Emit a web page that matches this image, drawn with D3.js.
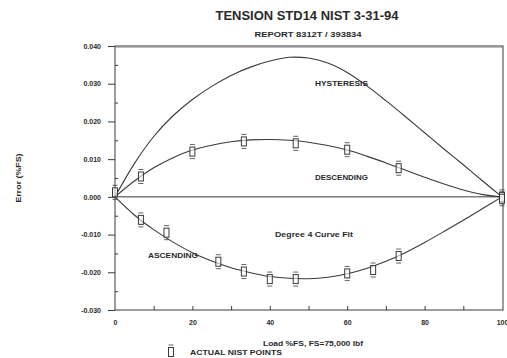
<!DOCTYPE html>
<html>
<head>
<meta charset="utf-8">
<script src="https://cdn.jsdelivr.net/npm/d3@7"></script>
<style>
  html, body { margin: 0; padding: 0; background: #fff; }
  svg { display: block; }
  text { font-family: "Liberation Sans", Arial, sans-serif; fill: #2a2a2a; font-weight: bold; }
</style>
</head>
<body>
<svg id="chart" width="507" height="358"></svg>
<script>
// Load points of the curve fits (% of full scale)
const fitLoads = [0, 5, 10, 15, 20, 25, 30, 35, 40, 45, 50, 55, 60, 65, 70, 75, 80, 85, 90, 95, 100];
// Degree 4 curve fits
const hysteresis = [0, 0.0088, 0.0160, 0.0215, 0.0258, 0.0293, 0.0322, 0.0344, 0.0360, 0.0370, 0.0368,
                    0.0355, 0.0330, 0.0295, 0.0255, 0.0213, 0.0170, 0.0127, 0.0085, 0.0042, 0];
const descending = [0, 0.0042, 0.0077, 0.0104, 0.0124, 0.0137, 0.0146, 0.0151, 0.0152, 0.0150, 0.0145,
                    0.0136, 0.0124, 0.0108, 0.0090, 0.0071, 0.0052, 0.0034, 0.0018, 0.0006, 0];
const ascending = [0, -0.0048, -0.0087, -0.0120, -0.0148, -0.0170, -0.0188, -0.0201, -0.0211, -0.0216, -0.0217,
                   -0.0213, -0.0204, -0.0190, -0.0171, -0.0148, -0.0121, -0.0092, -0.0062, -0.0031, 0];
// Actual NIST points
const descLoads = [0, 6.7, 20, 33.3, 46.7, 60, 73.3, 100];
const descPoints = [0.0012, 0.0054, 0.0120, 0.0147, 0.0142, 0.0125, 0.0076, 0];
const ascLoads = [6.7, 13.3, 26.7, 33.3, 40, 46.7, 60, 66.7, 73.3, 100];
const ascPoints = [-0.0061, -0.0095, -0.0172, -0.0198, -0.0218, -0.0218, -0.0203, -0.0194, -0.0157, -0.0005];
// Axis ticks
const yTicks = [0.04, 0.03, 0.02, 0.01, 0, -0.01, -0.02, -0.03];
const yTickLabels = ["0.040", "0.030", "0.020", "0.010", "0.000", "-0.010", "-0.020", "-0.030"];
const xTicks = [0, 20, 40, 60, 80, 100];

const svg = d3.select("#chart");
const plotL = 115, plotR = 503, plotT = 46, plotB = 310;
const x = d3.scaleLinear().domain([0, 100]).range([plotL, plotR - 1]);
const y = d3.scaleLinear().domain([-0.03, 0.04]).range([plotB, plotT]);
const ink = "#3a3a3a";

// Titles
svg.append("text").attr("x", 307).attr("y", 20).attr("text-anchor", "middle")
  .attr("font-size", 12).attr("textLength", 183).attr("lengthAdjust", "spacingAndGlyphs")
  .text("TENSION STD14  NIST 3-31-94");
svg.append("text").attr("x", 308).attr("y", 37).attr("text-anchor", "middle")
  .attr("font-size", 6.5).attr("textLength", 107).attr("lengthAdjust", "spacingAndGlyphs")
  .text("REPORT 8312T / 393834");

// Frame
svg.append("rect").attr("x", plotL).attr("y", plotT).attr("width", plotR - plotL).attr("height", plotB - plotT)
  .attr("fill", "none").attr("stroke", ink).attr("stroke-width", 1);
svg.append("line").attr("x1", plotL).attr("x2", plotR).attr("y1", plotT + 1.2).attr("y2", plotT + 1.2)
  .attr("stroke", "#888").attr("stroke-width", 0.8);

// Y axis
const yAxis = d3.axisLeft(y).tickValues(yTicks).tickSize(7).tickPadding(7)
  .tickFormat((d, i) => yTickLabels[i]);
const gy = svg.append("g").attr("transform", `translate(${plotL},0)`).call(yAxis);
gy.select(".domain").remove();
gy.selectAll("line").attr("stroke", ink);
gy.selectAll("text").attr("font-size", 7).attr("font-family", "Liberation Sans, Arial, sans-serif")
  .attr("font-weight", "bold").attr("fill", "#2a2a2a");
// minor y ticks
const gym = svg.append("g").attr("transform", `translate(${plotL},0)`)
  .call(d3.axisRight(y).tickValues([0.035, 0.025, 0.015, 0.005, -0.005, -0.015, -0.025]).tickSize(3).tickFormat(""));
gym.select(".domain").remove();
gym.selectAll("line").attr("stroke", ink);

// X axis
const xAxis = d3.axisBottom(x).tickValues(xTicks).tickSize(0).tickPadding(10).tickFormat(d3.format("d"));
const gx = svg.append("g").attr("transform", `translate(0,${plotB})`).call(xAxis);
gx.select(".domain").remove();
gx.selectAll("text").attr("font-size", 7).attr("font-family", "Liberation Sans, Arial, sans-serif")
  .attr("font-weight", "bold").attr("fill", "#2a2a2a");
const gxm = svg.append("g").attr("transform", `translate(0,${plotB})`)
  .call(d3.axisTop(x).tickValues(d3.range(10, 100, 10)).tickSize(4).tickFormat(""));
gxm.select(".domain").remove();
gxm.selectAll("line").attr("stroke", ink);

// Axis titles
svg.append("text").attr("x", 313).attr("y", 345.5).attr("text-anchor", "middle")
  .attr("font-size", 7).attr("textLength", 100).attr("lengthAdjust", "spacingAndGlyphs")
  .text("Load %FS, FS=75,000 lbf");
svg.append("text").attr("transform", "translate(21,178) rotate(-90)").attr("text-anchor", "middle")
  .attr("font-size", 7).attr("textLength", 49).attr("lengthAdjust", "spacingAndGlyphs")
  .text("Error (%FS)");

// Zero line
svg.append("line").attr("x1", x(0)).attr("x2", x(100)).attr("y1", y(0)).attr("y2", y(0))
  .attr("stroke", ink).attr("stroke-width", 1);

// Curve fits
const line = d3.line().x(d => x(d[0])).y(d => y(d[1])).curve(d3.curveCatmullRom);
[hysteresis, descending, ascending].forEach(vals => {
  svg.append("path").datum(fitLoads.map((l, i) => [l, vals[i]]))
    .attr("d", line).attr("fill", "none").attr("stroke", ink).attr("stroke-width", 1.1);
});

// NIST point markers
function marker(g, cx, cy) {
  g.append("rect").attr("x", cx - 2.5).attr("y", cy - 4.5).attr("width", 5).attr("height", 9)
    .attr("fill", "#fff").attr("fill-opacity", 0.6).attr("stroke", ink).attr("stroke-width", 1);
  g.append("line").attr("x1", cx - 2.5).attr("x2", cx + 2.5).attr("y1", cy - 7).attr("y2", cy - 7)
    .attr("stroke", ink).attr("stroke-width", 0.8);
  g.append("line").attr("x1", cx - 2.5).attr("x2", cx + 2.5).attr("y1", cy + 7).attr("y2", cy + 7)
    .attr("stroke", ink).attr("stroke-width", 0.8);
}
const pts = svg.append("g");
descLoads.forEach((l, i) => marker(pts, x(l), y(descPoints[i])));
ascLoads.forEach((l, i) => marker(pts, x(l), y(ascPoints[i])));

// Curve labels
const lab = (tx, ty, t, len, w) => svg.append("text").attr("x", tx).attr("y", ty).attr("font-size", 6.5)
  .attr("font-weight", w || "bold").attr("textLength", len).attr("lengthAdjust", "spacingAndGlyphs").text(t);
lab(315, 85.5, "HYSTERESIS", 53);
lab(315, 179.5, "DESCENDING", 53);
lab(148, 257.5, "ASCENDING", 50);
lab(275, 236.5, "Degree 4 Curve Fit", 78);

// Legend
const lg = svg.append("g");
marker(lg, 171, 352);
lab(190, 354.5, "ACTUAL NIST POINTS", 92);
</script>
</body>
</html>
